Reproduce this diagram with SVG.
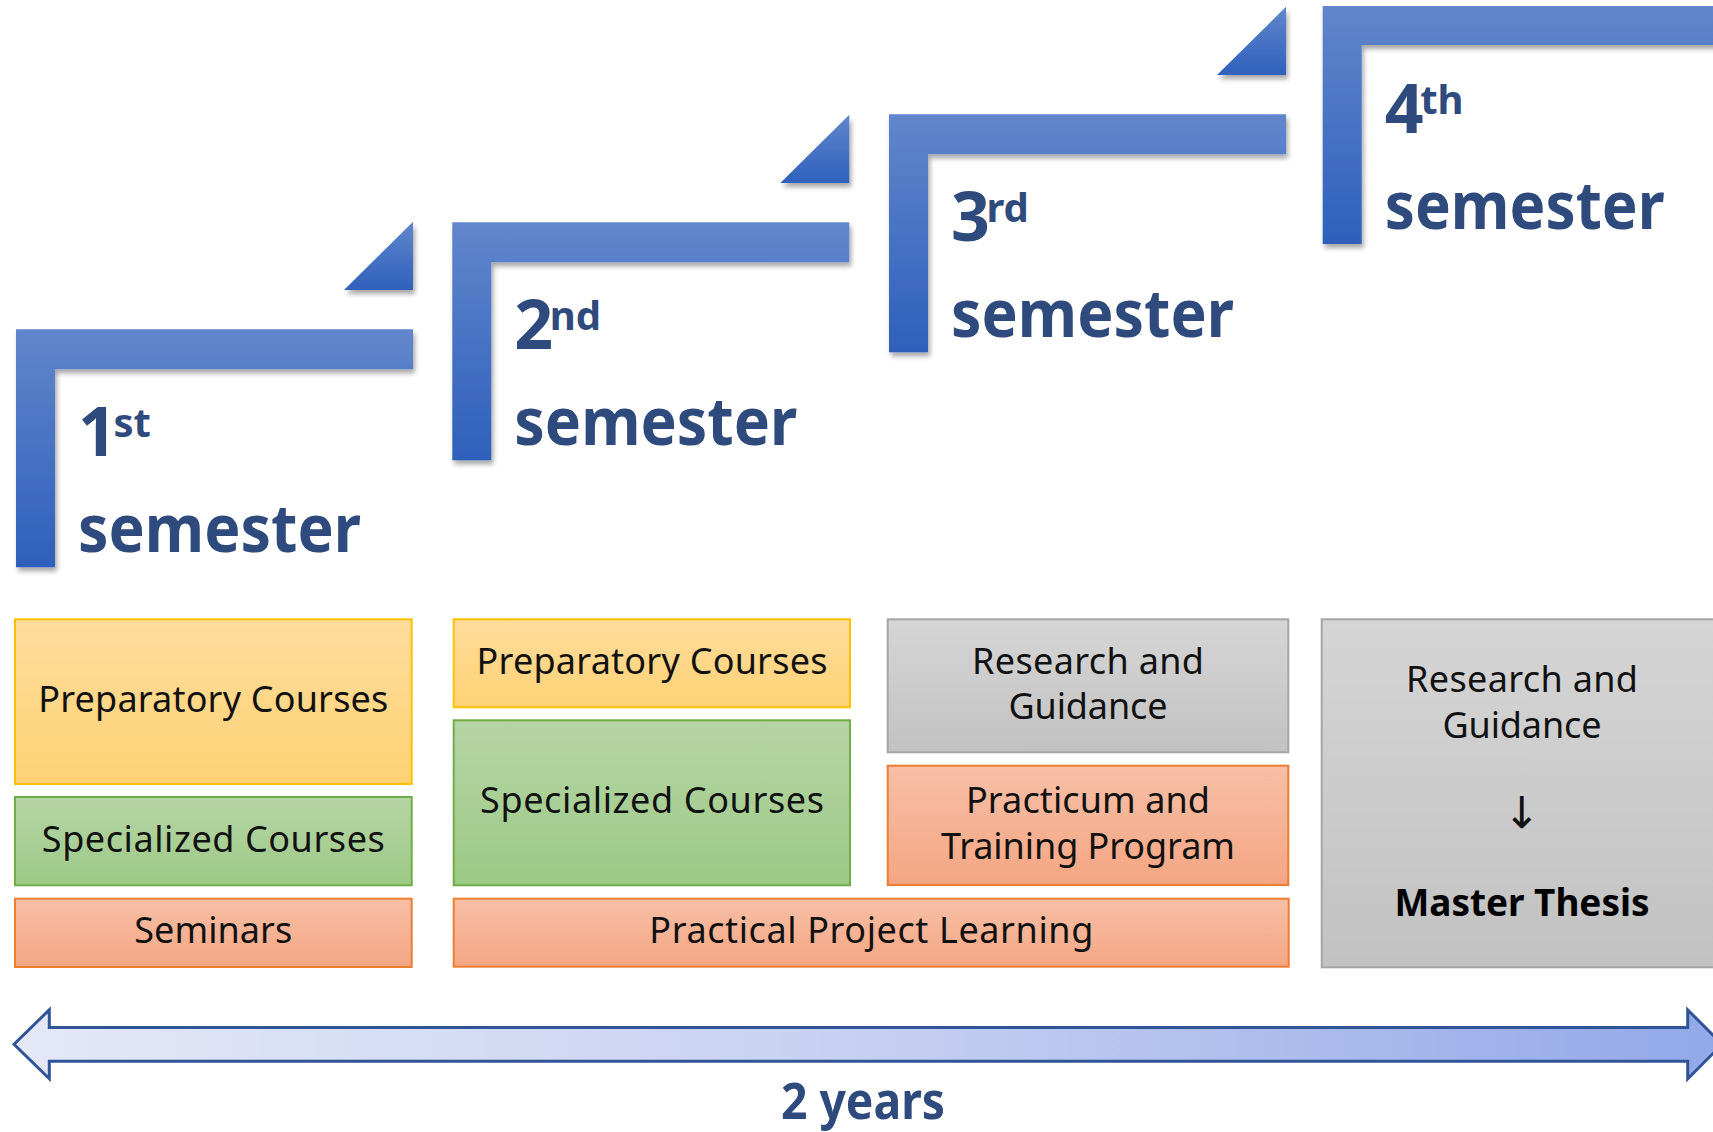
<svg xmlns="http://www.w3.org/2000/svg" width="1713" height="1132" viewBox="0 0 1713 1132">
<defs>
<linearGradient id="gStep" x1="0" y1="0" x2="0" y2="1">
<stop offset="0" stop-color="#6186CC"/>
<stop offset="1" stop-color="#2E60BB"/>
</linearGradient>
<linearGradient id="gTri" x1="0" y1="0" x2="0" y2="1">
<stop offset="0" stop-color="#6186CC"/>
<stop offset="1" stop-color="#2F61BC"/>
</linearGradient>
<linearGradient id="gYel" x1="0" y1="0" x2="0" y2="1">
<stop offset="0" stop-color="#FEDC9C"/>
<stop offset="1" stop-color="#FED274"/>
</linearGradient>
<linearGradient id="gGrn" x1="0" y1="0" x2="0" y2="1">
<stop offset="0" stop-color="#B6D5A6"/>
<stop offset="1" stop-color="#9CC985"/>
</linearGradient>
<linearGradient id="gOrg" x1="0" y1="0" x2="0" y2="1">
<stop offset="0" stop-color="#F7BFA6"/>
<stop offset="1" stop-color="#F4A683"/>
</linearGradient>
<linearGradient id="gGry" x1="0" y1="0" x2="0" y2="1">
<stop offset="0" stop-color="#D5D5D5"/>
<stop offset="1" stop-color="#C2C2C2"/>
</linearGradient>
<linearGradient id="gArrow" x1="0" y1="0" x2="1" y2="0">
<stop offset="0" stop-color="#E4E8F7"/>
<stop offset="0.5" stop-color="#C6D0F1"/>
<stop offset="1" stop-color="#92A8E8"/>
</linearGradient>
<filter id="shadow" x="-10%" y="-10%" width="130%" height="130%">
<feDropShadow dx="2" dy="4" stdDeviation="2.5" flood-color="#000" flood-opacity="0.35"/>
</filter>
<style>
.step{fill:url(#gStep);filter:url(#shadow);}
.tri{fill:url(#gTri);filter:url(#shadow);}
.num{font-family:"Noto Sans","Liberation Sans",sans-serif;font-weight:bold;font-size:68px;fill:#2F4A7C;}
.sup{font-family:"Noto Sans","Liberation Sans",sans-serif;font-weight:bold;font-size:40px;fill:#2F4A7C;}
.sem{font-family:"Noto Sans","Liberation Sans",sans-serif;font-weight:bold;font-size:66px;fill:#2F4A7C;}
.lbl{font-family:"Noto Sans","Liberation Sans",sans-serif;font-size:36px;fill:#111;text-anchor:middle;}
.bold{font-family:"Noto Sans","Liberation Sans",sans-serif;font-weight:bold;font-size:38px;fill:#000;text-anchor:middle;}
.yel{fill:url(#gYel);stroke:#FFC000;stroke-width:2;}
.grn{fill:url(#gGrn);stroke:#70AD47;stroke-width:2;}
.org{fill:url(#gOrg);stroke:#ED7D31;stroke-width:2;}
.gry{fill:url(#gGry);stroke:#A5A5A5;stroke-width:2;}
.years{font-family:"Noto Sans","Liberation Sans",sans-serif;font-weight:bold;font-size:50px;fill:#2F4A7C;text-anchor:middle;}
</style>
</defs>
<rect width="1713" height="1132" fill="#FFFFFF"/>

<g id="step1" transform="translate(16,329.3)">
<path class="tri" d="M397,-107.6 V-39.3 H328 Z"/>
<path class="step" d="M0,0 H397 V40 H39 V238 H0 Z"/>
<text class="num" x="62" y="127">1</text>
<text class="sup" x="97.5" y="108">st</text>
<text class="sem" x="62" y="222.5" textLength="283" lengthAdjust="spacingAndGlyphs">semester</text>
</g>
<g id="step2" transform="translate(452.3,222.3)">
<path class="tri" d="M397,-107.6 V-39.3 H328 Z"/>
<path class="step" d="M0,0 H397 V40 H39 V238 H0 Z"/>
<text class="num" x="62" y="127">2</text>
<text class="sup" x="97.5" y="108">nd</text>
<text class="sem" x="62" y="222.5" textLength="283" lengthAdjust="spacingAndGlyphs">semester</text>
</g>
<g id="step3" transform="translate(889,114.3)">
<path class="tri" d="M397,-107.6 V-39.3 H328 Z"/>
<path class="step" d="M0,0 H397 V40 H39 V238 H0 Z"/>
<text class="num" x="62" y="127">3</text>
<text class="sup" x="97.5" y="108">rd</text>
<text class="sem" x="62" y="222.5" textLength="283" lengthAdjust="spacingAndGlyphs">semester</text>
</g>
<g id="step4" transform="translate(1322.7,6)">
<path class="step" d="M0,0 H420 V39 H39 V238 H0 Z"/>
<text class="num" x="62" y="127">4</text>
<text class="sup" x="97.5" y="108">th</text>
<text class="sem" x="62" y="222.5" textLength="280" lengthAdjust="spacingAndGlyphs">semester</text>
</g>

<g id="prep1">
<rect class="yel" x="15" y="619.3" width="396.7" height="164.7"/>
<text class="lbl" x="213.3" y="711.7" textLength="350">Preparatory Courses</text>
</g>
<g id="spec1">
<rect class="grn" x="15" y="797" width="396.7" height="88.3"/>
<text class="lbl" x="213.3" y="851.7" textLength="343">Specialized Courses</text>
</g>
<g id="sem1">
<rect class="org" x="15" y="898.7" width="396.7" height="68.3"/>
<text class="lbl" x="213.3" y="943.3" textLength="158">Seminars</text>
</g>

<g id="prep2">
<rect class="yel" x="453.7" y="619.3" width="396.3" height="88"/>
<text class="lbl" x="652" y="674" textLength="351">Preparatory Courses</text>
</g>
<g id="spec2">
<rect class="grn" x="453.7" y="720.3" width="396.3" height="165"/>
<text class="lbl" x="652" y="813.3" textLength="344">Specialized Courses</text>
</g>
<g id="ppl">
<rect class="org" x="453.7" y="898.7" width="835" height="68"/>
<text class="lbl" x="871.3" y="943.3" textLength="444">Practical Project Learning</text>
</g>

<g id="research3">
<rect class="gry" x="887.7" y="619.3" width="400.6" height="133"/>
<text class="lbl" x="1088" y="674" textLength="232">Research and</text>
<text class="lbl" x="1088" y="719" textLength="159">Guidance</text>
</g>
<g id="practicum3">
<rect class="org" x="887.7" y="765.7" width="400.6" height="119.3"/>
<text class="lbl" x="1088" y="813.3" textLength="244">Practicum and</text>
<text class="lbl" x="1088" y="859.3" textLength="294">Training Program</text>
</g>

<g id="research4">
<rect class="gry" x="1321.7" y="619.3" width="420" height="348"/>
<text class="lbl" x="1522" y="691.7" textLength="232">Research and</text>
<text class="lbl" x="1522" y="737.7" textLength="159">Guidance</text>
<text class="lbl" x="1522" y="828" style="font-family:'DejaVu Sans',sans-serif;font-size:44px">↓</text>
<text class="bold" x="1522" y="916" textLength="255" lengthAdjust="spacingAndGlyphs">Master Thesis</text>
</g>

<g id="connectors">
<path d="M14,1044.3 L49.3,1009.8 V1027.5 H1687.7 V1009.8 L1722.2,1044.3 L1687.7,1078.8 V1061.3 H49.3 V1078.8 Z" fill="url(#gArrow)" stroke="#2F5597" stroke-width="3" stroke-linejoin="miter"/>
</g>
<g id="years">
<text class="years" x="863" y="1119" textLength="164" lengthAdjust="spacingAndGlyphs">2 years</text>
</g>
</svg>
